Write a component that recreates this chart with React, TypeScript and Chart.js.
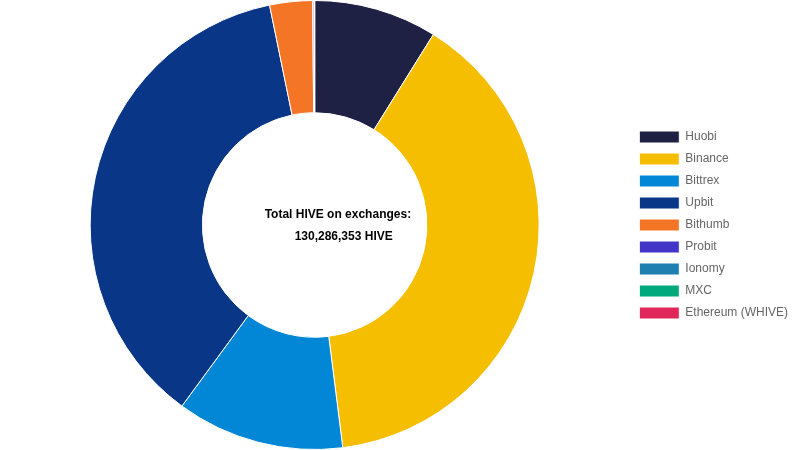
import React, { useEffect, useRef } from "react";
import { Chart, registerables } from "chart.js";

Chart.register(...registerables);

const exchanges = ["Huobi", "Binance", "Bittrex", "Upbit", "Bithumb", "Probit", "Ionomy", "MXC", "Ethereum (WHIVE)"];
const balances = [11556000, 50981000, 15725000, 47828000, 4013000, 130000, 30000, 15000, 8353];
const colors = ["#1f2144", "#f6be00", "#0187d6", "#093687", "#f47526", "#4335c8", "#1e7fb0", "#00a97c", "#e0265a"];
const centerLines = ["Total HIVE on exchanges:", "130,286,353 HIVE"];

const centerTextPlugin = {
  id: "centerText",
  afterDraw(chart: any) {
    const { ctx, chartArea } = chart;
    const cx = (chartArea.left + chartArea.right) / 2;
    const cy = (chartArea.top + chartArea.bottom) / 2;
    ctx.save();
    ctx.font = "bold 12px 'Liberation Sans', Arial, sans-serif";
    ctx.fillStyle = "#000";
    ctx.textAlign = "left";
    ctx.textBaseline = "middle";
    ctx.fillText(centerLines[0], cx - 50, cy - 10);
    ctx.fillText(centerLines[1], cx - 20, cy + 12);
    ctx.restore();
  },
};

export default function App() {
  const ref = useRef<HTMLCanvasElement>(null);
  useEffect(() => {
    if (!ref.current) return;
    const chart = new Chart(ref.current, {
      type: "doughnut",
      data: {
        labels: exchanges,
        datasets: [
          {
            data: balances,
            backgroundColor: colors,
            borderColor: "#fff",
            borderWidth: 1,
          },
        ],
      },
      options: {
        animation: false,
        responsive: true,
        maintainAspectRatio: false,
        cutout: "50%",
        layout: { padding: 0 },
        plugins: {
          legend: {
            position: "right",
            labels: {
              boxWidth: 40,
              boxHeight: 12,
              padding: 10,
              color: "#666",
              font: { family: "'Liberation Sans', Arial, sans-serif", size: 12 },
            },
          },
          tooltip: { enabled: false },
        },
      },
      plugins: [centerTextPlugin],
    });
    return () => chart.destroy();
  }, []);
  return (
    <div style={{ position: "fixed", left: 0, top: 0, width: 798, height: 450 }}>
      <canvas ref={ref} />
    </div>
  );
}
